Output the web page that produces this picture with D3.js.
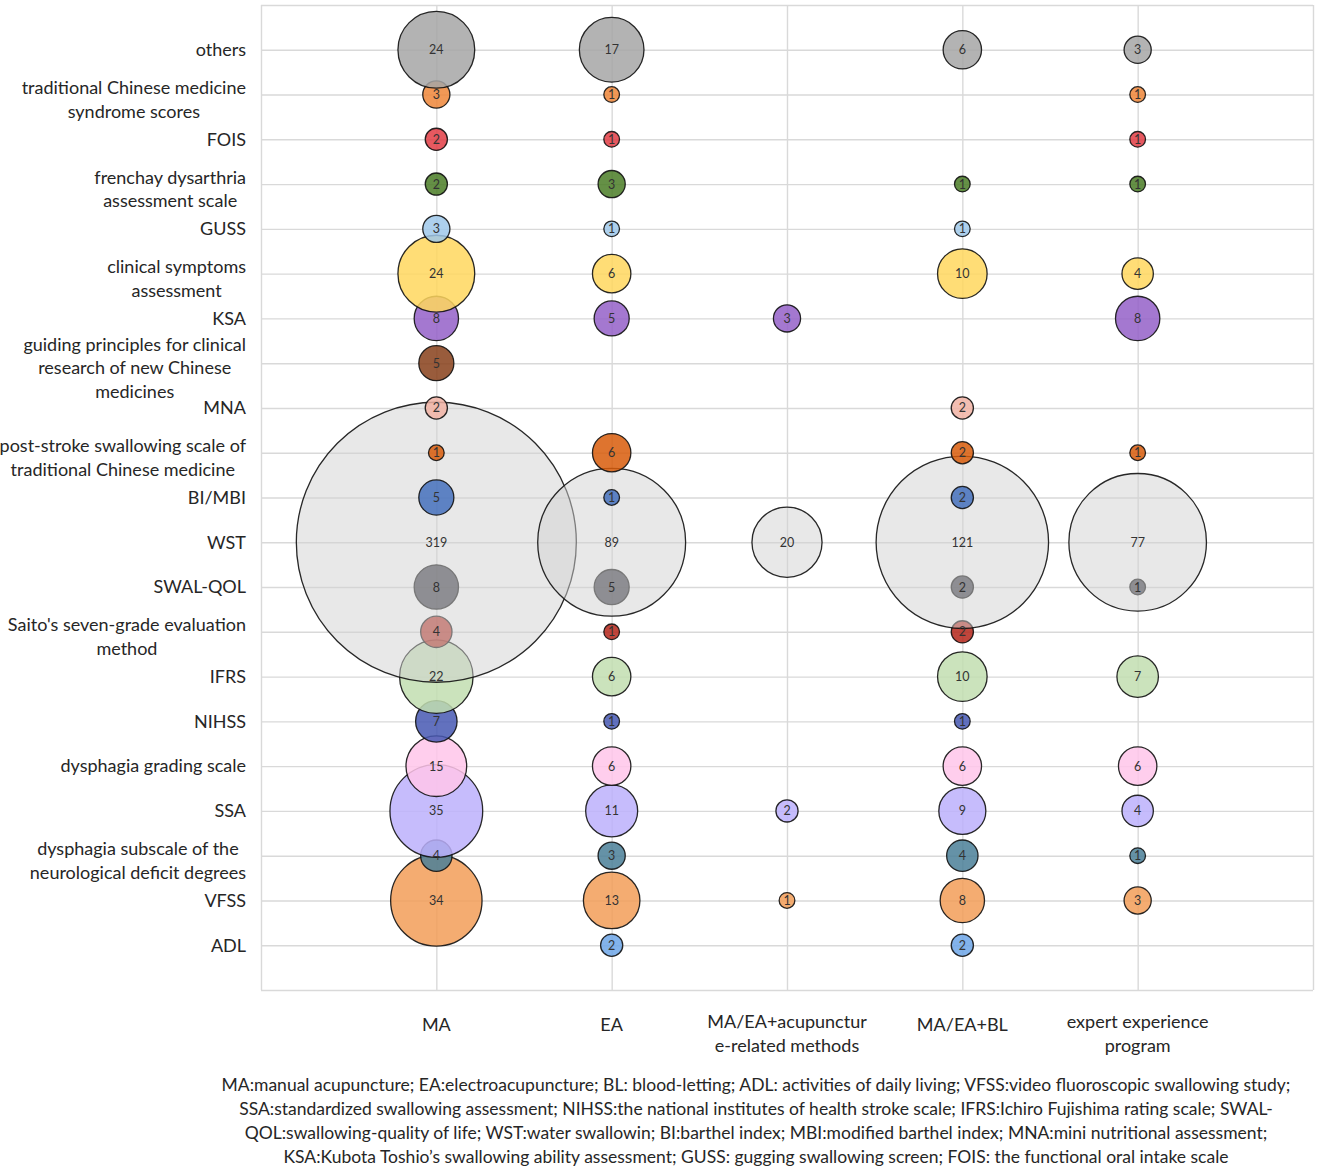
<!DOCTYPE html>
<html>
<head>
<meta charset="utf-8">
<script src="https://cdn.jsdelivr.net/npm/d3@7"></script>
<style>
    body { margin: 0; background: #fff; }
    .chart text { font-family: Lato, "Open Sans", sans-serif; fill: #262626; }
    .grid line { stroke: #d9d9d9; stroke-width: 1.4; }
    .grid .domain { display: none; }
</style>
</head>
<body>
<div class="chart" id="chart"></div>
<script>
// x categories (treatments), label lines as printed
const treatments = ["MA", "EA", "MA/EA+acupuncture-related methods", "MA/EA+BL", "expert experience program"];
const treatmentLines = [["MA"], ["EA"], ["MA/EA+acupunctur", "e-related methods"], ["MA/EA+BL"], ["expert experience", "program"]];

// y categories (outcome measures), top to bottom
const measures = ["others", "traditional Chinese medicine syndrome scores", "FOIS", "frenchay dysarthria assessment scale",
    "GUSS", "clinical symptoms assessment", "KSA", "guiding principles for clinical research of new Chinese medicines",
    "MNA", "post-stroke swallowing scale of traditional Chinese medicine", "BI/MBI", "WST", "SWAL-QOL",
    "Saito's seven-grade evaluation method", "IFRS", "NIHSS", "dysphagia grading scale", "SSA",
    "dysphagia subscale of the neurological deficit degrees", "VFSS", "ADL"];
const measureLines = [["others"], ["traditional Chinese medicine", "syndrome scores"], ["FOIS"], ["frenchay dysarthria", "assessment scale"],
    ["GUSS"], ["clinical symptoms", "assessment"], ["KSA"], ["guiding principles for clinical", "research of new Chinese", "medicines"],
    ["MNA"], ["post-stroke swallowing scale of", "traditional Chinese medicine"], ["BI/MBI"], ["WST"], ["SWAL-QOL"],
    ["Saito's seven-grade evaluation", "method"], ["IFRS"], ["NIHSS"], ["dysphagia grading scale"], ["SSA"],
    ["dysphagia subscale of the", "neurological deficit degrees"], ["VFSS"], ["ADL"]];

// counts per measure: [MA, EA, MA/EA+acu, MA/EA+BL, expert]
const others = [24, 17, null, 6, 3];
const tcmScores = [3, 1, null, null, 1];
const fois = [2, 1, null, null, 1];
const frenchay = [2, 3, null, 1, 1];
const guss = [3, 1, null, 1, null];
const clinical = [24, 6, null, 10, 4];
const ksa = [8, 5, 3, null, 8];
const guiding = [5, null, null, null, null];
const mna = [2, null, null, 2, null];
const postStroke = [1, 6, null, 2, 1];
const biMbi = [5, 1, null, 2, null];
const wst = [319, 89, 20, 121, 77];
const swalQol = [8, 5, null, 2, 1];
const saito = [4, 1, null, 2, null];
const ifrs = [22, 6, null, 10, 7];
const nihss = [7, 1, null, 1, null];
const gradingScale = [15, 6, null, 6, 6];
const ssa = [35, 11, 2, 9, 4];
const subscale = [4, 3, null, 4, 1];
const vfss = [34, 13, 1, 8, 3];
const adl = [null, 2, null, 2, null];

const values = [others, tcmScores, fois, frenchay, guss, clinical, ksa, guiding, mna, postStroke, biMbi, wst,
    swalQol, saito, ifrs, nihss, gradingScale, ssa, subscale, vfss, adl];

const colors = ["#a6a6a6", "#ee8638", "#e23c44", "#4a7c26", "#9fc8ea", "#ffd75e", "#9460c8", "#87401a",
    "#f1b3a4", "#d85c0a", "#4470bc", "#d1d1d1", "#2c2c36", "#b5261a", "#c2deb0", "#4758b3",
    "#ffc6ea", "#bcb0fb", "#4a7f98", "#f29d58", "#6da6e8"];

const footnote = [
    "MA:manual acupuncture; EA:electroacupuncture; BL: blood-letting; ADL: activities of daily living; VFSS:video fluoroscopic swallowing study;",
    "SSA:standardized swallowing assessment; NIHSS:the national institutes of health stroke scale; IFRS:Ichiro Fujishima rating scale; SWAL-",
    "QOL:swallowing-quality of life; WST:water swallowin; BI:barthel index; MBI:modified barthel index; MNA:mini nutritional assessment;",
    "KSA:Kubota Toshio\u2019s swallowing ability assessment; GUSS: gugging swallowing screen; FOIS: the functional oral intake scale"
];

const margin = {top: 5, right: 12, bottom: 181, left: 261};
const W = 1325, H = 1171;
const width = W - margin.left - margin.right;
const height = H - margin.top - margin.bottom;

const svg = d3.select("#chart").append("svg")
    .attr("width", W).attr("height", H);
const g = svg.append("g").attr("transform", "translate(" + margin.left + "," + margin.top + ")");

const x = d3.scaleLinear().domain([0, treatments.length + 1]).range([0, width]);
const y = d3.scaleLinear().domain([0, measures.length + 1]).range([height, 0]);
const r = d3.scaleSqrt().domain([0, 319]).range([0, 140]);

// row index -> y value (others on top)
const rowY = i => measures.length - i;

g.append("g").attr("class", "grid")
    .call(d3.axisLeft(y).tickValues(d3.range(0, measures.length + 2)).tickSize(-width).tickFormat(""));
g.append("g").attr("class", "grid")
    .attr("transform", "translate(0," + height + ")")
    .call(d3.axisBottom(x).tickValues(d3.range(0, treatments.length + 2)).tickSize(-height).tickFormat(""));

// flatten, drawn from bottom row upward
let points = [];
for (let i = measures.length - 1; i >= 0; i--) {
    values[i].forEach(function (v, j) {
        if (v != null) points.push({row: i, col: j, value: v});
    });
}

g.append("g").selectAll("circle")
    .data(points)
    .enter().append("circle")
    .attr("cx", d => x(d.col + 1))
    .attr("cy", d => y(rowY(d.row)))
    .attr("r", d => r(d.value))
    .attr("fill", d => colors[d.row])
    .attr("fill-opacity", d => measures[d.row] === "WST" ? 0.5 : 0.85)
    .attr("stroke", "#111")
    .attr("stroke-opacity", 0.9)
    .attr("stroke-width", 1.3);

g.append("g").selectAll("text")
    .data(points)
    .enter().append("text")
    .attr("x", d => x(d.col + 1))
    .attr("y", d => y(rowY(d.row)))
    .attr("dy", "0.36em")
    .attr("text-anchor", "middle")
    .style("font-size", "12.5px")
    .style("fill", "#333")
    .text(d => d.value);

// y labels, each block centred, right edge at a fixed gap
const lineH = 23.5;
measureLines.forEach(function (lines, i) {
    let t = g.append("text").style("font-size", "18px").attr("text-anchor", "middle");
    let top = y(rowY(i)) + (lines.length > 1 ? 5 : 0) - (lines.length - 1) * lineH / 2;
    lines.forEach(function (s, k) {
        t.append("tspan").attr("x", 0).attr("y", top + k * lineH).attr("dy", "0.35em").text(s);
    });
    let w = 0;
    t.selectAll("tspan").each(function () { w = Math.max(w, this.getComputedTextLength()); });
    t.selectAll("tspan").attr("x", -15 - w / 2);
});

// x labels
treatmentLines.forEach(function (lines, j) {
    let t = g.append("text").style("font-size", "18px").attr("text-anchor", "middle");
    let top = lines.length > 1 ? height + 31.5 : height + 35;
    lines.forEach(function (s, k) {
        t.append("tspan").attr("x", x(j + 1)).attr("y", top + k * 24).attr("dy", "0.35em").text(s);
    });
});

// footnote
svg.append("g").selectAll("text")
    .data(footnote)
    .enter().append("text")
    .attr("x", 756)
    .attr("y", (d, k) => 1085 + k * 24)
    .attr("dy", "0.35em")
    .attr("text-anchor", "middle")
    .style("font-size", "17.5px")
    .text(d => d);
</script>
</body>
</html>
